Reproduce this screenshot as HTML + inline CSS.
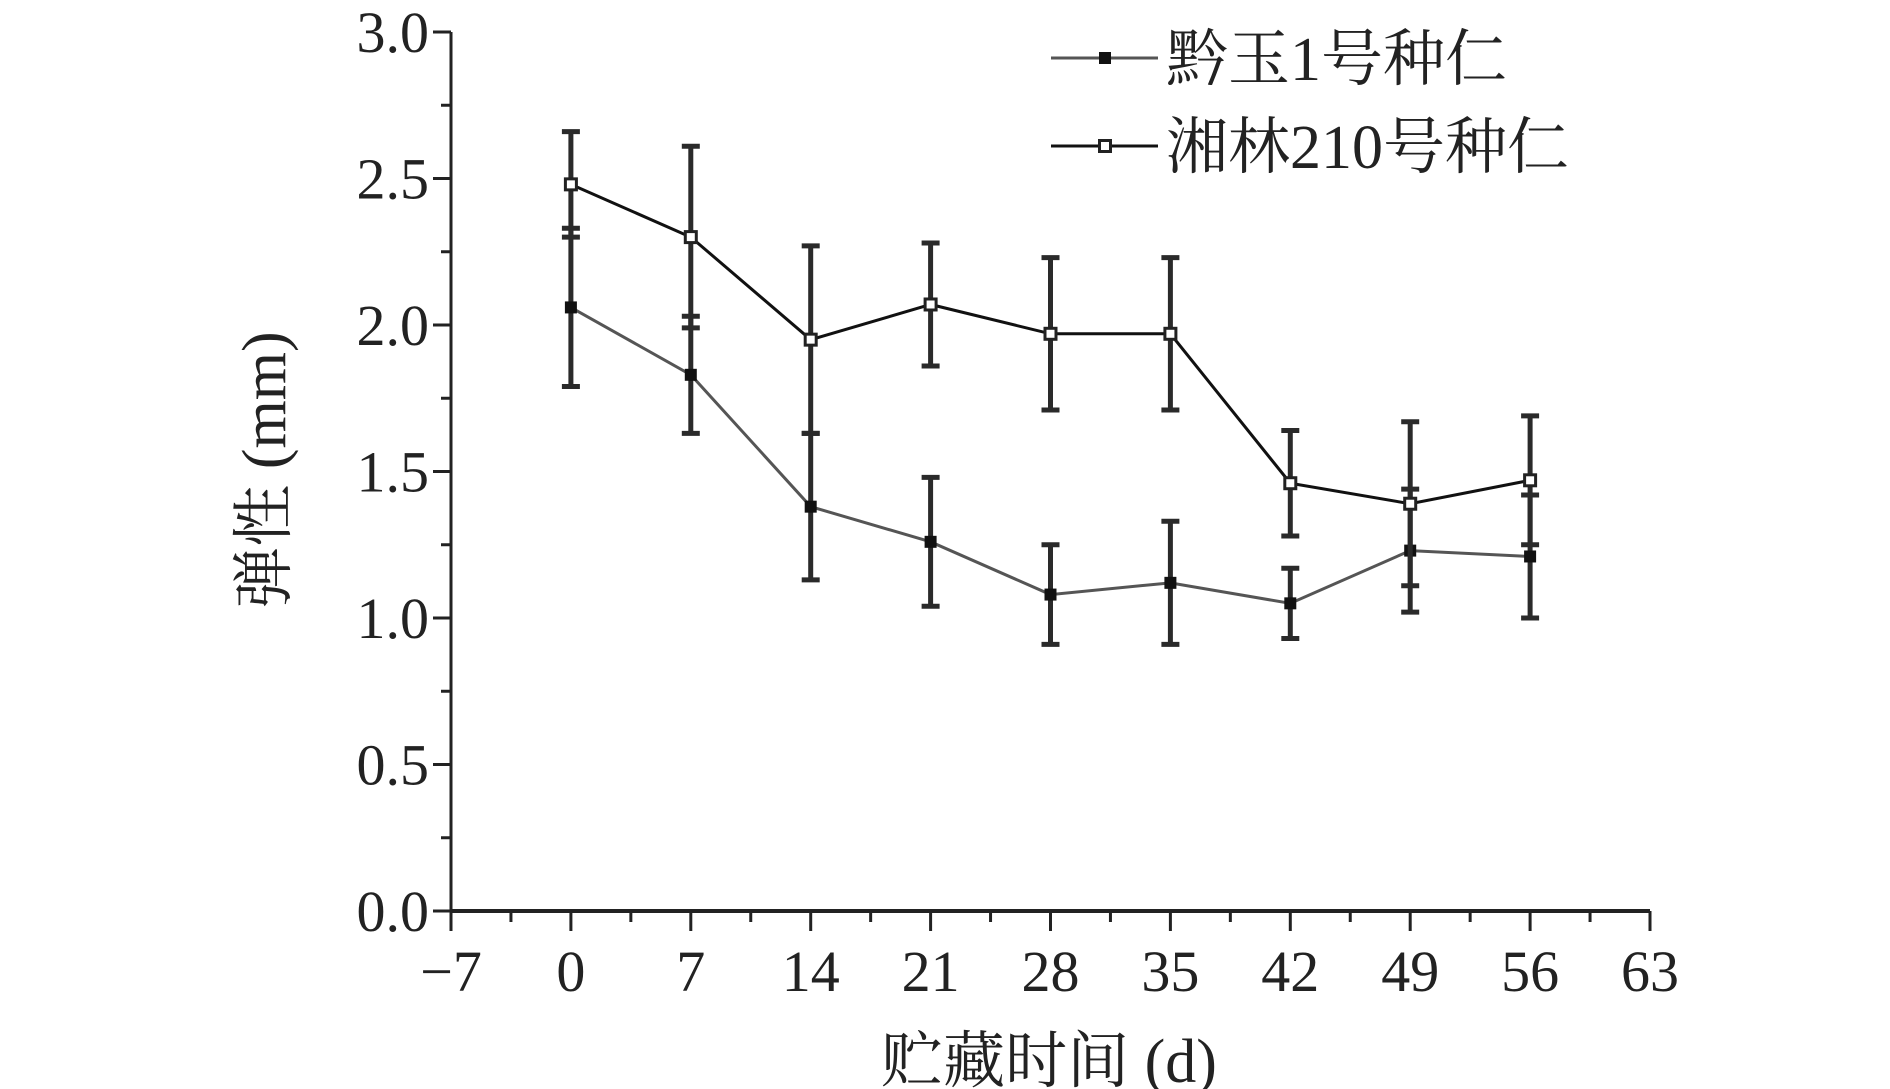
<!DOCTYPE html>
<html><head><meta charset="utf-8"><style>
html,body{margin:0;padding:0;background:#fff;}
svg{display:block;}
text{font-family:"Liberation Serif","Noto Serif CJK SC",serif;fill:#222;}
</style></head><body>
<svg id="chart" width="1890" height="1089" viewBox="0 0 1890 1089"></svg>
<script>
const xTicks=[-7,0,7,14,21,28,35,42,49,56,63];
const yTicks=[0,0.5,1.0,1.5,2.0,2.5,3.0];
const days=[0,7,14,21,28,35,42,49,56];
const s1Name="黔玉1号种仁";
const s1Vals=[2.06,1.83,1.38,1.26,1.08,1.12,1.05,1.23,1.21];
const s1Err=[0.27,0.20,0.25,0.22,0.17,0.21,0.12,0.21,0.21];
const s2Name="湘林210号种仁";
const s2Vals=[2.48,2.30,1.95,2.07,1.97,1.97,1.46,1.39,1.47];
const s2Err=[0.18,0.31,0.32,0.21,0.26,0.26,0.18,0.28,0.22];

const NS="http://www.w3.org/2000/svg";
const svg=document.getElementById('chart');
const X0=451,X1=1650,Y0=911,Y1=32;
const xS=v=>X0+(v+7)/70*(X1-X0);
const yS=v=>Y0-v/3*(Y0-Y1);
function mk(tag,attrs,parent){const e=document.createElementNS(NS,tag);for(const k in attrs)e.setAttribute(k,attrs[k]);(parent||svg).appendChild(e);return e;}

// axes
let ax=mk('line',{x1:X0,y1:Y0,x2:X1,y2:Y0,stroke:'#222','stroke-width':4});


let ay=mk('line',{x1:X0,y1:Y0+2,x2:X0,y2:Y1,stroke:'#222','stroke-width':3});



for(let i=0;i<xTicks.length;i++){
  const x=xS(xTicks[i]);
  let t=mk('line',{x1:x,y1:Y0,x2:x,y2:Y0+20,stroke:'#222','stroke-width':3});
  
  
  if(i<xTicks.length-1){
    const xm=xS(xTicks[i]+3.5);
    let m=mk('line',{x1:xm,y1:Y0,x2:xm,y2:Y0+11,stroke:'#222','stroke-width':3});
    
    
  }
  let l=mk('text',{x:x,y:Y0+80,'font-size':58,'text-anchor':'middle'});
  l.textContent=(xTicks[i]<0?'−'+Math.abs(xTicks[i]):xTicks[i]);
  
  
}
for(let i=0;i<yTicks.length;i++){
  const y=yS(yTicks[i]);
  let t=mk('line',{x1:X0-18,y1:y,x2:X0,y2:y,stroke:'#222','stroke-width':3});
  
  
  if(i<yTicks.length-1){
    const ym=yS(yTicks[i]+0.25);
    let m=mk('line',{x1:X0-10,y1:ym,x2:X0,y2:ym,stroke:'#222','stroke-width':3});
    
    
  }
  let l=mk('text',{x:X0-22,y:y+20,'font-size':58,'text-anchor':'end'});
  l.textContent=yTicks[i].toFixed(1);
  
  
}

function drawSeries(vals,errs,color,filled,key){
  // error bars
  for(let i=0;i<days.length;i++){
    const x=xS(days[i]),yl=yS(vals[i]-errs[i]),yh=yS(vals[i]+errs[i]);
    const g=mk('g',{stroke:'#2a2a2a','stroke-width':5});
    
    
    mk('line',{x1:x,y1:yl,x2:x,y2:yh},g);
    mk('line',{x1:x-9,y1:yl,x2:x+9,y2:yl},g);
    mk('line',{x1:x-9,y1:yh,x2:x+9,y2:yh},g);
  }
  const pts=days.map((d,i)=>xS(d)+','+yS(vals[i])).join(' ');
  let pl=mk('polyline',{points:pts,fill:'none',stroke:color,'stroke-width':3});
  
  
  for(let i=0;i<days.length;i++){
    const x=xS(days[i]),y=yS(vals[i]);
    let r=filled?mk('rect',{x:x-6,y:y-6,width:12,height:12,fill:'#111'}):mk('rect',{x:x-5.5,y:y-5.5,width:11,height:11,fill:'#fff',stroke:'#222','stroke-width':3});
    
    
  }
}
drawSeries(s1Vals,s1Err,'#555',true,'qianyu');
drawSeries(s2Vals,s2Err,'#111',false,'xianglin');

// legend
function legend(y,name,color,filled,key){
  const g=mk('g',{});
  
  
  mk('line',{x1:1051,y1:y,x2:1158,y2:y,stroke:color,'stroke-width':3},g);
  if(filled)mk('rect',{x:1099,y:y-6,width:12,height:12,fill:'#111'},g);
  else mk('rect',{x:1099.5,y:y-5.5,width:11,height:11,fill:'#fff',stroke:'#222','stroke-width':3},g);
  const t=mk('text',{x:1166,y:y+22,'font-size':62},g);
  t.textContent=name;
}
legend(58,s1Name,'#555',true,'qianyu');
legend(146,s2Name,'#111',false,'xianglin');

let xt=mk('text',{x:1049,y:1082,'font-size':62,'text-anchor':'middle'});
xt.textContent='贮藏时间 (d)';


let yt=mk('text',{x:0,y:0,'font-size':62,'text-anchor':'middle',transform:'translate(285,470) rotate(-90)'});
yt.textContent='弹性 (mm)';


</script>
</body></html>
